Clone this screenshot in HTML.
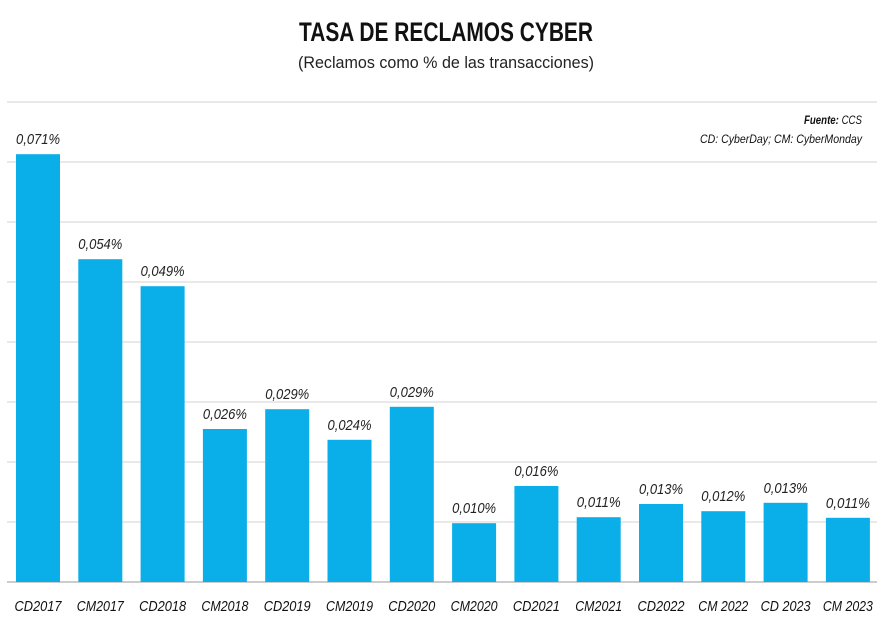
<!DOCTYPE html>
<html><head><meta charset="utf-8"><style>
body{margin:0;background:#fff;}
svg{display:block;font-family:"Liberation Sans Narrow","Liberation Sans",sans-serif;}
</style></head><body>
<svg id="chart" width="889" height="633" viewBox="0 0 889 633">
<text x="446" y="41" text-anchor="middle" font-size="27" font-weight="bold" fill="#111" textLength="294" lengthAdjust="spacingAndGlyphs">TASA DE RECLAMOS CYBER</text>
<text x="446" y="68" text-anchor="middle" font-size="17" fill="#222" textLength="296" lengthAdjust="spacingAndGlyphs">(Reclamos como % de las transacciones)</text>
<text x="862" y="124" text-anchor="end" font-size="11.5" font-style="italic" fill="#111" textLength="58" lengthAdjust="spacingAndGlyphs"><tspan font-weight="bold">Fuente:</tspan> CCS</text>
<text x="862" y="143" text-anchor="end" font-size="11.5" font-style="italic" fill="#111" textLength="162" lengthAdjust="spacingAndGlyphs">CD: CyberDay; CM: CyberMonday</text>
<g id="grid"></g><g id="bars"></g>
</svg>
<script>
const categories=["CD2017","CM2017","CD2018","CM2018","CD2019","CM2019","CD2020","CM2020","CD2021","CM2021","CD2022","CM 2022","CD 2023","CM 2023"];
const values=[0.0713,0.0538,0.0493,0.0255,0.0288,0.0237,0.0292,0.0098,0.0160,0.0108,0.0130,0.0118,0.0132,0.0107];
const labels=["0,071%","0,054%","0,049%","0,026%","0,029%","0,024%","0,029%","0,010%","0,016%","0,011%","0,013%","0,012%","0,013%","0,011%"];
const ticks=[0,0.01,0.02,0.03,0.04,0.05,0.06,0.07,0.08];
const NS="http://www.w3.org/2000/svg";
const y0=582,pxPer=6000,x0=38,step=62.3,bw=44;
const y=v=>y0-v*pxPer, x=i=>x0+i*step;
const grid=document.getElementById('grid'),bars=document.getElementById('bars');
ticks.forEach((t,i)=>{const l=document.createElementNS(NS,'line');
l.setAttribute('x1',7);l.setAttribute('x2',877);l.setAttribute('y1',y(t));l.setAttribute('y2',y(t));
l.setAttribute('stroke',i===0?'#bbb':'#e2e2e2');l.setAttribute('stroke-width',1.5);


grid.appendChild(l);});
categories.forEach((c,i)=>{
const r=document.createElementNS(NS,'rect');
r.setAttribute('x',x(i)-bw/2);r.setAttribute('y',y(values[i]));r.setAttribute('width',bw);r.setAttribute('height',y0-y(values[i]));r.setAttribute('fill','#0aaee9');


bars.appendChild(r);
const t=document.createElementNS(NS,'text');
t.setAttribute('x',x(i));t.setAttribute('y',y(values[i])-10);t.setAttribute('text-anchor','middle');t.setAttribute('font-size','15');t.setAttribute('font-style','italic');t.setAttribute('fill','#222');
t.setAttribute('textLength',44);t.setAttribute('lengthAdjust','spacingAndGlyphs');
t.textContent=labels[i];


bars.appendChild(t);
const c2=document.createElementNS(NS,'text');
c2.setAttribute('x',x(i));c2.setAttribute('y',611);c2.setAttribute('text-anchor','middle');c2.setAttribute('font-size','15');c2.setAttribute('font-style','italic');c2.setAttribute('fill','#111');
c2.setAttribute('textLength',c.length>6?50:47);c2.setAttribute('lengthAdjust','spacingAndGlyphs');
c2.textContent=c;


bars.appendChild(c2);
});
</script>
</body></html>
